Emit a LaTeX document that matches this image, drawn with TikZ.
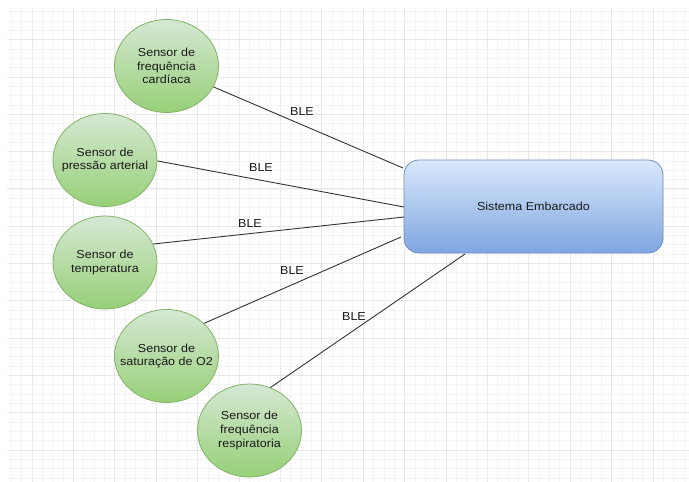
\documentclass[tikz,border=0pt]{standalone}
\usepackage{fontspec}
\setmainfont[FakeStretch=1.08]{Liberation Sans}
\usetikzlibrary{shapes.geometric}
\definecolor{minorg}{HTML}{F4F4F4}
\definecolor{majorg}{HTML}{E8E8E8}
\definecolor{gtop}{HTML}{D5E8D4}
\definecolor{gbot}{HTML}{97D077}
\definecolor{gline}{HTML}{82B366}
\definecolor{btop}{HTML}{DAE8FC}
\definecolor{bbot}{HTML}{7EA6E0}
\definecolor{bline}{HTML}{6C8EBF}
\definecolor{txt}{HTML}{1A1A1A}
\definecolor{edge}{HTML}{333333}
\begin{document}
\begin{tikzpicture}[x=1pt,y=-1pt,
  minorgrid/.style={draw=minorg,line width=0.6pt},
  majorgrid/.style={draw=majorg,line width=0.8pt},
  sensor/.style={ellipse,draw=gline,line width=0.8pt,top color=gtop,bottom color=gbot,
    minimum width=104pt,minimum height=93pt,inner xsep=-16pt,inner ysep=0pt,align=center,text=txt,
    font=\fontsize{11.6pt}{13.7pt}\selectfont},
  sysbox/.style={rectangle,rounded corners=15pt,draw=bline,line width=0.8pt,top color=btop,bottom color=bbot,
    minimum width=259pt,minimum height=93pt,inner sep=0pt,text=txt,
    font=\fontsize{11.6pt}{13.7pt}\selectfont},
  link/.style={draw=edge,line width=0.9pt},
  lbl/.style={text=txt,inner sep=0pt,font=\fontsize{11.6pt}{13.7pt}\selectfont}]
\useasboundingbox (0,0) rectangle (689,482);
\fill[white] (0,0) rectangle (689,482);
% grid
\foreach \k in {-2,...,63}{\pgfmathsetmacro\gx{31.9+10.35*\k}\draw[minorgrid] (\gx,8) -- (\gx,482);}
\foreach \k in {-3,...,47}{\pgfmathsetmacro\gy{39.6+9.325*\k}\draw[minorgrid] (7,\gy) -- (689,\gy);}
\foreach \k in {0,...,15}{\pgfmathsetmacro\gx{31.9+41.4*\k}\draw[majorgrid] (\gx,8) -- (\gx,482);}
\foreach \k in {0,...,11}{\pgfmathsetmacro\gy{39.6+37.3*\k}\draw[majorgrid] (7,\gy) -- (689,\gy);}
% nodes
\node[sensor] (e1) at (166.5,66) {Sensor de\\frequência\\cardíaca};
\node[sensor] (e2) at (105,160) {Sensor de\\pressão arterial};
\node[sensor] (e3) at (105,262.5) {Sensor de\\temperatura};
\node[sensor] (e4) at (166.5,356) {Sensor de\\saturação de O2};
\node[sensor] (e5) at (249.5,430.5) {Sensor de\\frequência\\respiratoria};
\node[sysbox] (box) at (533.5,206.5) {Sistema Embarcado};
% connector ends
\coordinate (c1) at (403,168);
\coordinate (c2) at (404,207);
\coordinate (c3) at (404,217);
\coordinate (c4) at (401,237);
\coordinate (c5) at (465,254);
\draw[link] (e1.-24) -- (c1);
\draw[link] (e2.-1) -- (c2);
\draw[link] (e3.21) -- (c3);
\draw[link] (e4.41) -- (c4);
\draw[link] (e5.64) -- (c5);
% labels
\node[lbl] (l1) at (302,112) {BLE};
\node[lbl] (l2) at (261,168) {BLE};
\node[lbl] (l3) at (250,224) {BLE};
\node[lbl] (l4) at (292,271) {BLE};
\node[lbl] (l5) at (354,317) {BLE};
\end{tikzpicture}
\end{document}
